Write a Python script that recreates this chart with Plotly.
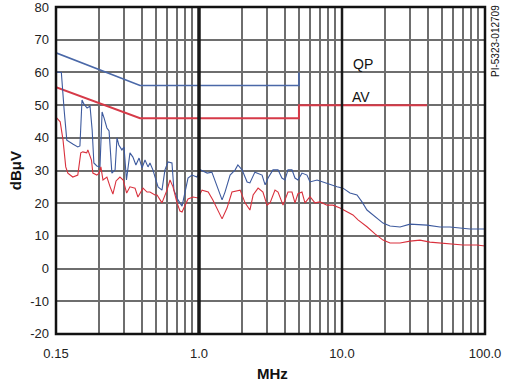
import plotly.graph_objects as go

# ---- data (frequency in MHz on the chart's axis, level in dBuV) ----
qp_freq = [0.101, 0.109, 0.114, 0.119, 0.131, 0.142, 0.147, 0.152, 0.157, 0.165, 0.173, 0.179, 0.184,
           0.193, 0.203, 0.210, 0.217, 0.227, 0.235, 0.242, 0.246, 0.259, 0.267, 0.275, 0.289, 0.299,
           0.311, 0.329, 0.345, 0.362, 0.381, 0.400, 0.419, 0.440, 0.454, 0.476, 0.517, 0.551, 0.578,
           0.607, 0.647, 0.668, 0.713, 0.761, 0.798, 0.838, 0.893, 0.968, 1.02, 1.14, 1.23, 1.29, 1.36,
           1.45, 1.52, 1.65, 1.79, 1.87, 2.00, 2.17, 2.27, 2.46, 2.76, 2.90, 3.04, 3.29, 3.57, 3.80,
           3.99, 4.19, 4.47, 4.69, 4.92, 5.25, 5.69, 5.97, 6.69, 7.36, 8.24, 9.23, 10.16, 11.37, 12.73,
           13.80, 14.95, 17.01, 19.35, 21.67, 25.46, 29.91, 39.3, 48.4, 56.9, 66.8, 78.5, 100]
qp_level = [60.1, 60.0, 48.5, 39.3, 38.1, 37.2, 37.5, 51.6, 50.3, 49.1, 49.7, 42.4, 32.3,
            31.4, 31.1, 47.9, 46.0, 43.0, 42.1, 33.2, 29.2, 30.2, 40.0, 37.8, 36.3, 37.2,
            27.1, 35.4, 34.1, 31.7, 33.8, 30.8, 33.2, 31.1, 32.3, 30.2, 25.0, 24.0, 30.2,
            32.6, 32.3, 24.0, 21.0, 19.1, 23.1, 27.7, 28.6, 28.0, 30.2, 29.2, 29.5, 27.1, 24.0,
            21.0, 23.4, 28.6, 30.2, 31.7, 30.2, 26.5, 26.2, 29.5, 28.6, 25.6, 27.7, 30.2, 30.2, 27.7,
            27.1, 30.2, 30.2, 27.7, 27.1, 29.2, 28.6, 26.5, 27.1, 26.5, 25.6, 25.0, 24.6, 23.1, 22.5,
            20.4, 17.9, 15.8, 13.9, 13.0, 12.7, 13.6, 13.3, 12.7, 12.7, 12.4, 12.1, 12.1]

av_freq = [0.101, 0.107, 0.112, 0.117, 0.121, 0.131, 0.142, 0.149, 0.154, 0.164, 0.167, 0.177, 0.181,
           0.193, 0.200, 0.206, 0.213, 0.227, 0.239, 0.250, 0.263, 0.280, 0.295, 0.312, 0.329, 0.357,
           0.374, 0.406, 0.433, 0.454, 0.492, 0.509, 0.551, 0.597, 0.627, 0.658, 0.702, 0.736, 0.761,
           0.798, 0.838, 0.908, 0.984, 1.05, 1.16, 1.25, 1.34, 1.45, 1.57, 1.70, 1.94, 2.10, 2.27,
           2.39, 2.59, 2.80, 2.99, 3.14, 3.40, 3.57, 3.87, 4.19, 4.47, 4.69, 4.92, 5.25, 5.51, 5.97,
           6.47, 7.02, 7.86, 8.65, 9.68, 10.83, 11.93, 12.94, 14.95, 17.01, 19.35, 21.67, 25.46,
           29.91, 35.1, 41.2, 48.4, 56.9, 70.2, 87.9, 100]
av_level = [46.1, 44.9, 39.3, 31.1, 29.2, 28.0, 28.6, 35.4, 35.7, 35.4, 36.3, 33.2, 29.2,
            28.6, 29.2, 31.1, 27.1, 28.0, 25.0, 22.8, 26.8, 28.0, 27.1, 23.1, 25.0, 24.6,
            21.9, 24.6, 23.4, 23.4, 22.5, 22.5, 20.1, 24.0, 27.1, 25.0, 20.1, 17.6, 17.3,
            19.4, 21.3, 21.9, 21.6, 24.0, 23.4, 21.0, 18.5, 15.2, 18.5, 23.4, 24.0, 20.1, 17.9,
            22.5, 24.6, 23.4, 19.4, 20.1, 24.0, 23.4, 19.4, 23.4, 23.4, 20.1, 22.9, 23.4, 20.1, 22.0,
            20.1, 20.4, 19.4, 19.4, 18.5, 17.3, 16.4, 14.9, 12.8, 10.6, 8.7, 7.8, 7.8,
            8.4, 8.7, 8.1, 7.8, 7.5, 7.2, 7.2, 6.9]

qp_limit_freq = [0.1, 0.387, 5.0, 5.0]
qp_limit_level = [66, 56, 56, 60]
av_limit_freq = [0.1, 0.387, 5.0, 5.0, 39.3]
av_limit_level = [55.5, 46, 46, 50, 50]

grid_freqs = [0.1, 0.2, 0.3, 0.4, 0.5, 0.6, 0.7, 0.8, 0.9,
              1, 2, 3, 4, 5, 6, 7, 8, 9,
              10, 20, 30, 40, 50, 60, 70, 80, 90, 100]
labelled = {0.1: "0.15", 1: "1.0", 10: "10.0", 100: "100.0"}
y_ticks = [-20, -10, 0, 10, 20, 30, 40, 50, 60, 70, 80]
y_labels = ["-20", "-10", "0", "10", "20", "30", "40", "50", "60", "70", "80"]

BLUE = "#3d5a9e"
RED = "#d9313d"
LIM_BLUE = "#4a68a8"
LIM_RED = "#d63a48"
FONT = "Arial, Liberation Sans, Helvetica, sans-serif"

fig = go.Figure()
fig.add_trace(go.Scatter(x=qp_limit_freq, y=qp_limit_level, mode="lines",
                         line=dict(color=LIM_BLUE, width=1.6), hoverinfo="skip"))
fig.add_trace(go.Scatter(x=av_limit_freq, y=av_limit_level, mode="lines",
                         line=dict(color=LIM_RED, width=2), hoverinfo="skip"))
fig.add_trace(go.Scatter(x=qp_freq, y=qp_level, mode="lines",
                         line=dict(color=BLUE, width=1.1), hoverinfo="skip"))
fig.add_trace(go.Scatter(x=av_freq, y=av_level, mode="lines",
                         line=dict(color=RED, width=1.1), hoverinfo="skip"))

# heavy decade lines
fig.add_shape(type="line", xref="x", yref="paper", x0=1, x1=1, y0=0, y1=1,
              line=dict(color="#1a1a1a", width=3.5), layer="above")
fig.add_shape(type="line", xref="x", yref="paper", x0=10, x1=10, y0=0, y1=1,
              line=dict(color="#1a1a1a", width=2.5), layer="above")
# frame
fig.add_shape(type="rect", xref="paper", yref="paper", x0=0, x1=1, y0=0, y1=1,
              line=dict(color="#111111", width=2.5), layer="above")

fig.update_layout(
    width=510, height=383,
    margin=dict(l=56, r=25, t=7, b=49, autoexpand=False),
    paper_bgcolor="white", plot_bgcolor="white",
    showlegend=False,
    font=dict(family=FONT, size=13, color="#222222"),
    xaxis=dict(type="log", range=[-1, 2], automargin=False,
               tickmode="array", tickvals=grid_freqs,
               ticktext=[labelled.get(v, "") for v in grid_freqs],
               showgrid=True, gridcolor="#6e6e6e", gridwidth=2,
               ticks="", ticklabelstandoff=10, zeroline=False, ticklabeloverflow="allow",
               showline=False, tickfont=dict(size=13, family=FONT)),
    yaxis=dict(range=[-20.02, 80.02], automargin=False,
               tickmode="array", tickvals=y_ticks, ticktext=y_labels,
               showgrid=True, gridcolor="#6e6e6e", gridwidth=2,
               ticks="", ticklabelstandoff=6, zeroline=False, ticklabeloverflow="allow",
               showline=False, tickfont=dict(size=13, family=FONT)),
    annotations=[
        dict(text="<b>dBμV</b>", xref="paper", yref="paper", x=-0.094, y=0.50,
             textangle=-90, showarrow=False, font=dict(size=15, family=FONT, color="#111"),
             xanchor="center", yanchor="middle"),
        dict(text="<b>MHz</b>", xref="paper", yref="paper", x=0.505, y=-0.122,
             showarrow=False, font=dict(size=15, family=FONT, color="#111"),
             xanchor="center", yanchor="middle"),
        dict(text="QP", xref="paper", yref="paper", x=0.716, y=(334 - 63.5) / 327,
             showarrow=False, font=dict(size=14, family=FONT, color="#111"),
             xanchor="center", yanchor="middle"),
        dict(text="AV", xref="paper", yref="paper", x=0.712, y=(334 - 97.5) / 327,
             showarrow=False, font=dict(size=14, family=FONT, color="#111"),
             xanchor="center", yanchor="middle"),
        dict(text="PI-5323-012709", xref="paper", yref="paper", x=(496 - 56) / 429,
             y=(334 - 41) / 327, textangle=-90, showarrow=False,
             font=dict(size=10, family=FONT, color="#111"),
             xanchor="center", yanchor="middle"),
    ],
)

fig.write_html("out.html", config={"displayModeBar": False},
               post_script="document.body.style.margin='0';document.body.style.padding='0';")
